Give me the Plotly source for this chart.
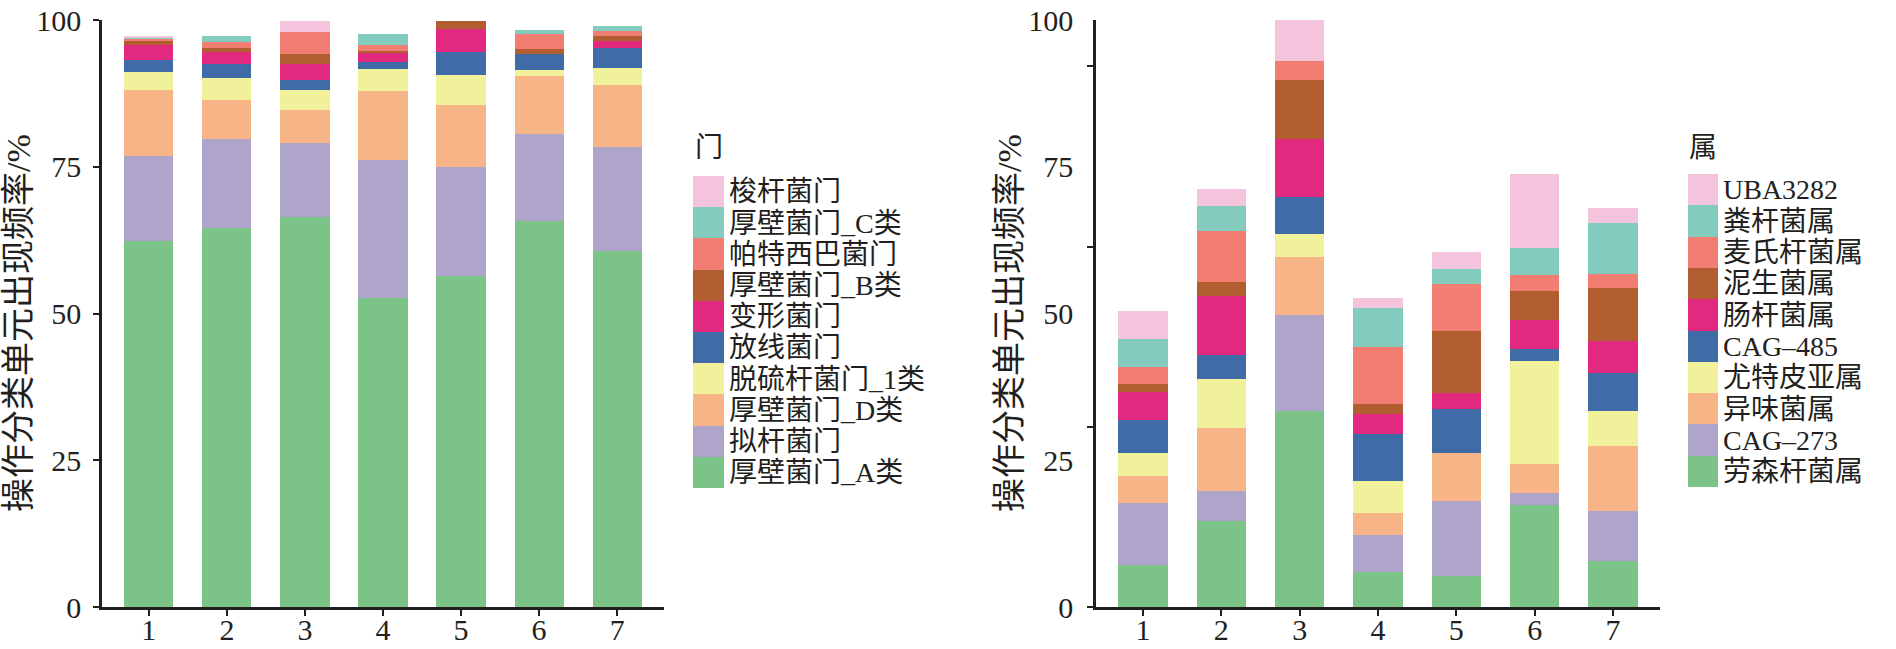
import plotly.graph_objects as go

W, H = 1896, 649

samples = [1, 2, 3, 4, 5, 6, 7]
sample_labels = ["1", "2", "3", "4", "5", "6", "7"]
y_ticks = [0, 25, 50, 75, 100]
right_tick_marks = [0, 30.7, 61.4, 92.1]

# ---- phylum (bottom -> top) ----
phylum_names = ["厚壁菌门_A类", "拟杆菌门", "厚壁菌门_D类", "脱硫杆菌门_1类", "放线菌门",
                "变形菌门", "厚壁菌门_B类", "帕特西巴菌门", "厚壁菌门_C类", "梭杆菌门"]
ph_firmicutes_a = [62.3, 64.6, 66.4, 52.7, 56.4, 65.7, 60.6]
ph_bacteroidota = [14.6, 15.2, 12.7, 23.4, 18.6, 14.9, 17.8]
ph_firmicutes_d = [11.2, 6.6, 5.6, 11.8, 10.5, 9.8, 10.5]
ph_desulfo = [3.0, 3.7, 3.4, 3.7, 5.1, 1.0, 2.9]
ph_actino = [2.1, 2.4, 1.7, 1.2, 3.9, 2.8, 3.5]
ph_proteo = [2.6, 2.0, 2.7, 1.7, 3.9, 0.0, 1.1]
ph_firmicutes_b = [0.6, 0.8, 1.7, 0.2, 1.5, 0.8, 0.8]
ph_patesci = [0.4, 0.9, 3.7, 1.1, 0.0, 2.6, 0.9]
ph_firmicutes_c = [0.3, 1.0, 0.0, 1.8, 0.0, 0.7, 0.9]
ph_fuso = [0.1, 0.0, 2.0, 0.0, 0.0, 0.0, 0.0]
phylum_values = [ph_firmicutes_a, ph_bacteroidota, ph_firmicutes_d, ph_desulfo, ph_actino,
                 ph_proteo, ph_firmicutes_b, ph_patesci, ph_firmicutes_c, ph_fuso]

# ---- genus (bottom -> top) ----
genus_names = ["劳森杆菌属", "CAG–273", "异味菌属", "尤特皮亚属", "CAG–485",
               "肠杆菌属", "泥生菌属", "麦氏杆菌属", "粪杆菌属", "UBA3282"]
g_lawsonibacter = [7.2, 14.6, 33.4, 6.0, 5.3, 17.3, 7.9]
g_cag273 = [10.6, 5.1, 16.3, 6.2, 12.8, 2.1, 8.5]
g_odoribacter = [4.6, 10.8, 10.0, 3.8, 8.2, 4.9, 11.1]
g_eutypia = [3.9, 8.3, 3.8, 5.4, 0.0, 17.6, 5.9]
g_cag485 = [5.6, 4.1, 6.3, 8.1, 7.5, 2.0, 6.4]
g_entero = [4.7, 10.0, 10.0, 3.4, 2.7, 5.0, 5.6]
g_limo = [1.4, 2.4, 9.9, 1.6, 10.5, 4.9, 8.9]
g_mitsuo = [2.9, 8.8, 3.4, 9.8, 8.1, 2.7, 2.5]
g_faecali = [4.7, 4.2, 0.0, 6.7, 2.4, 4.6, 8.6]
g_uba3282 = [4.8, 2.9, 6.9, 1.6, 2.9, 12.7, 2.6]
genus_values = [g_lawsonibacter, g_cag273, g_odoribacter, g_eutypia, g_cag485,
                g_entero, g_limo, g_mitsuo, g_faecali, g_uba3282]

colors = ["#7cc387", "#afa5ca", "#f6b487", "#f1f19b", "#3f6ca7",
          "#e12a7f", "#b25d2f", "#f27e73", "#82cbbd", "#f4c3dc"]

y_title = "操作分类单元出现频率/%"
FONT = "Liberation Serif, Noto Sans CJK SC, serif"
INK = "#231f20"

fig = go.Figure()

for name, vals, c in zip(phylum_names, phylum_values, colors):
    fig.add_trace(go.Bar(x=samples, y=vals, name=name, marker=dict(color=c, line=dict(width=0)),
                         width=0.63, xaxis="x", yaxis="y", showlegend=False))
for name, vals, c in zip(genus_names, genus_values, colors):
    fig.add_trace(go.Bar(x=samples, y=vals, name=name, marker=dict(color=c, line=dict(width=0)),
                         width=0.63, xaxis="x2", yaxis="y2", showlegend=False))

# legend blocks drawn as small bar axes
fig.add_trace(go.Bar(x=[1] * len(phylum_names), y=phylum_names, orientation="h",
                     marker=dict(color=colors, line=dict(width=0)), width=1,
                     xaxis="x3", yaxis="y3", showlegend=False, hoverinfo="y"))
fig.add_trace(go.Bar(x=[1] * len(genus_names), y=genus_names, orientation="h",
                     marker=dict(color=colors, line=dict(width=0)), width=1,
                     xaxis="x4", yaxis="y4", showlegend=False, hoverinfo="y"))

ydom = [42 / H, (H - 20) / H]

def xax(dom, anchor):
    return dict(domain=dom, anchor=anchor, range=[0.4, 7.6], tickmode="array",
                tickvals=samples, ticktext=sample_labels, ticks="outside", ticklen=6,
                tickwidth=2, tickcolor=INK, showline=True, linewidth=2.5, linecolor=INK,
                showgrid=False, zeroline=False, tickfont=dict(size=30, color=INK, family=FONT),
                automargin=False, ticklabelstandoff=-12, ticklabeloverflow="allow")

def yax(anchor, tickmarks=True):
    d = dict(domain=ydom, anchor=anchor, range=[0, 100], tickmode="array",
             tickvals=y_ticks, ticktext=[str(v) for v in y_ticks],
             ticks="outside" if tickmarks else "", ticklen=6, tickwidth=2, tickcolor=INK,
             showline=True, linewidth=2.5, linecolor=INK, showgrid=False, zeroline=False,
             tickfont=dict(size=30, color=INK, family=FONT), automargin=False,
             ticklabelstandoff=6, ticklabeloverflow="allow")
    return d

yax2 = yax("x2", tickmarks=False)
yax2["ticklabelstandoff"] = 14
yax2["minor"] = dict(tickmode="array", tickvals=right_tick_marks, ticks="outside",
                     ticklen=6, tickwidth=2, tickcolor=INK, showgrid=False)

def legax_x(dom, anchor):
    return dict(domain=dom, anchor=anchor, range=[0, 1], visible=False, fixedrange=True)

def legax_y(dom, anchor, names):
    return dict(domain=dom, anchor=anchor, side="right", type="category",
                tickmode="array", tickvals=names, ticktext=names,
                range=[-0.5, 9.5], showline=False, ticks="", showgrid=False,
                zeroline=False, tickfont=dict(size=28, color=INK, family=FONT),
                automargin=False, ticklabelstandoff=4, fixedrange=True)

fig.update_layout(
    width=W, height=H, template="none",
    margin=dict(l=0, r=0, t=0, b=0, pad=0),
    paper_bgcolor="white", plot_bgcolor="white",
    barmode="stack", showlegend=False,
    font=dict(family=FONT, color=INK),
    xaxis=xax([102 / W, 664 / W], "y"),
    yaxis=yax("x"),
    xaxis2=xax([1096 / W, 1660 / W], "y2"),
    yaxis2=yax2,
    xaxis3=legax_x([693 / W, 724 / W], "y3"),
    yaxis3=legax_y([(H - 488) / H, (H - 176) / H], "x3", phylum_names),
    xaxis4=legax_x([1688 / W, 1718 / W], "y4"),
    yaxis4=legax_y([(H - 487) / H, (H - 174) / H], "x4", genus_names),
    annotations=[
        dict(text=y_title, textangle=-90, x=19 / W, y=(H - 323) / H, xref="paper", yref="paper",
             xanchor="center", yanchor="middle", showarrow=False, font=dict(size=34, color=INK, family=FONT)),
        dict(text=y_title, textangle=-90, x=1010 / W, y=(H - 323) / H, xref="paper", yref="paper",
             xanchor="center", yanchor="middle", showarrow=False, font=dict(size=34, color=INK, family=FONT)),
        dict(text="门", x=693 / W, y=(H - 147) / H, xref="paper", yref="paper",
             xanchor="left", yanchor="middle", showarrow=False, font=dict(size=28, color=INK, family=FONT)),
        dict(text="属", x=1687 / W, y=(H - 147) / H, xref="paper", yref="paper",
             xanchor="left", yanchor="middle", showarrow=False, font=dict(size=28, color=INK, family=FONT)),
    ],
)

fig.write_html("out.html", post_script="document.body.style.margin='0';",
               config={"displayModeBar": False})
